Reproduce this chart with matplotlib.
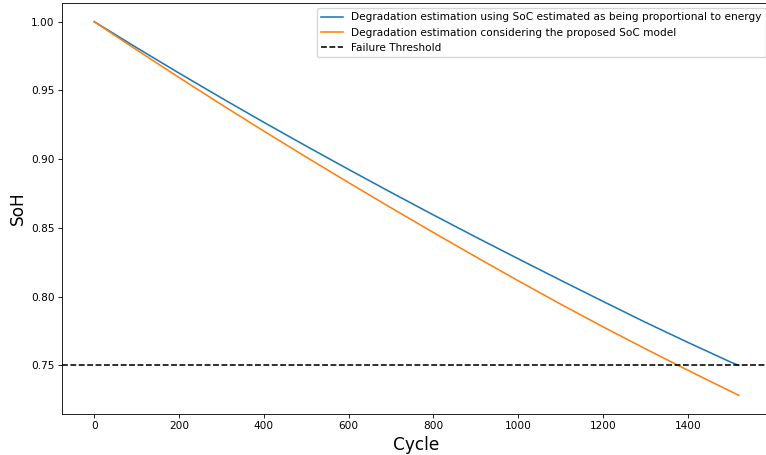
import numpy as np
import matplotlib
matplotlib.use('Agg')
import matplotlib.pyplot as plt

# values
cycles = [0, 100, 200, 300, 400, 500, 600, 700, 800, 900, 1000,
          1100, 1200, 1300, 1400, 1500, 1520]
soh_energy = [1.0, 0.9811, 0.9626, 0.9445, 0.9268, 0.9095, 0.8925, 0.8758, 0.8594,
              0.8433, 0.8275, 0.8119, 0.7965, 0.7813, 0.7667, 0.7525, 0.750]
soh_model = [1.0, 0.9795, 0.9594, 0.9397, 0.9204, 0.9015, 0.8829, 0.8646, 0.8466,
             0.8289, 0.8115, 0.7945, 0.7780, 0.7620, 0.7464, 0.7312, 0.7282]
threshold = 0.75

s = 0.76  # reference looks like a scaled-down render
plt.rcParams.update({'lines.linewidth': 1.5 * s, 'axes.linewidth': 0.8 * s,
                     'xtick.major.size': 3.5 * s, 'ytick.major.size': 3.5 * s,
                     'xtick.major.width': 0.8 * s, 'ytick.major.width': 0.8 * s,
                     'xtick.major.pad': 3.5 * s, 'ytick.major.pad': 3.5 * s})

fig = plt.figure(figsize=(7.66, 4.55), dpi=100)
ax = fig.add_axes([62/766, 41/455, 709/766, 411/455])

ax.plot(cycles, soh_energy, color='#1f77b4',
        label='Degradation estimation using SoC estimated as being proportional to energy')
ax.plot(cycles, soh_model, color='#ff7f0e',
        label='Degradation estimation considering the proposed SoC model')
ax.axhline(threshold, color='k', linestyle='--', label='Failure Threshold')

ax.set_xlabel('Cycle', fontsize=16 * s, labelpad=4 * s)
ax.set_ylabel('SoH', fontsize=16 * s, labelpad=4 * s)
ax.tick_params(labelsize=10 * s)
ax.legend(loc='upper right', fontsize=10 * s, borderaxespad=0.5)

fig.savefig('out.png', dpi=100)
